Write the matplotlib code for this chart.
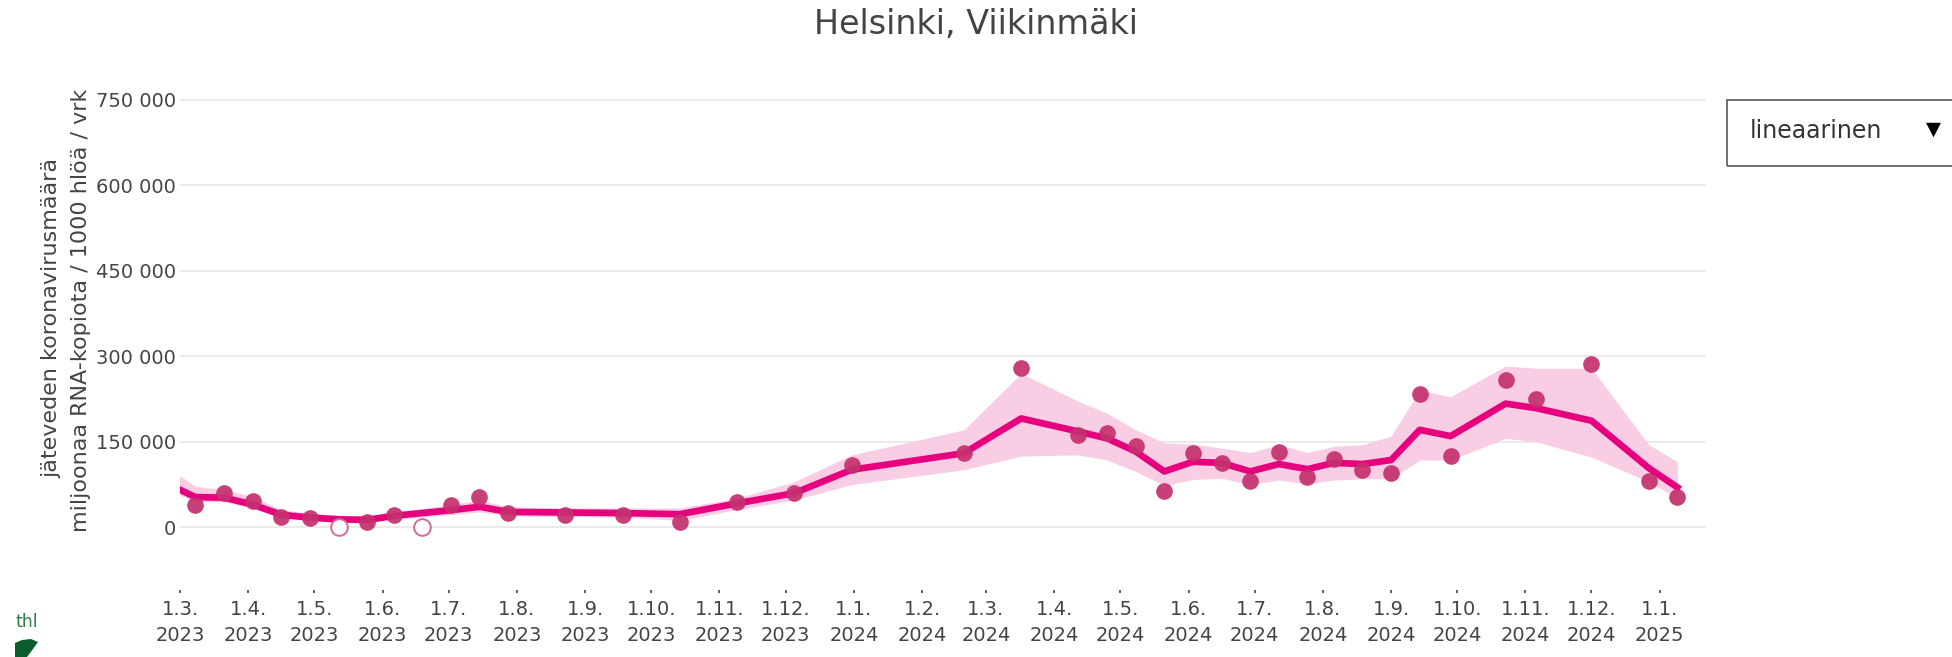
import matplotlib.pyplot as plt
import matplotlib.patches as mpatches
import matplotlib.ticker as mticker
import numpy as np
import pandas as pd

nan = np.nan

dates = ["2023-02-24", "2023-03-08", "2023-03-21", "2023-04-03", "2023-04-16",
         "2023-04-29", "2023-05-12", "2023-05-25", "2023-06-06", "2023-06-19",
         "2023-07-02", "2023-07-15", "2023-07-28", "2023-08-23", "2023-09-18",
         "2023-10-14", "2023-11-09", "2023-12-05", "2023-12-31", "2024-02-20",
         "2024-03-17", "2024-04-12", "2024-04-25", "2024-05-08", "2024-05-21",
         "2024-06-03", "2024-06-16", "2024-06-29", "2024-07-12", "2024-07-25",
         "2024-08-06", "2024-08-19", "2024-09-01", "2024-09-14", "2024-09-28",
         "2024-10-23", "2024-11-06", "2024-12-01", "2024-12-27", "2025-01-09"]

# measured values, below_lod = under detection limit (drawn as open circles on 0)
measured = [nan, 40000, 60000, 46000, 18000, 16000, 0, 10000, 21000, 0,
            39000, 54000, 25000, 22000, 22000, 9000, 45000, 61000, 110000, 131000,
            279000, 162000, 165000, 142000, 63000, 130000, 113000, 82000, 132000, 89000,
            120000, 101000, 96000, 234000, 125000, 259000, 225000, 286000, 82000, 54000]
below_lod = [False, False, False, False, False, False, True, False, False, True,
             False, False, False, False, False, False, False, False, False, False,
             False, False, False, False, False, False, False, False, False, False,
             False, False, False, False, False, False, False, False, False, False]

trend = [75000, 53000, 52000, 40000, 22000, 17000, 14000, 13000, 20000, 25000,
         30000, 36000, 27000, 26000, 25000, 23000, 42000, 60000, 101000, 130000,
         191000, 168000, 156000, 133000, 98000, 115000, 113000, 98000, 111000, 102000,
         113000, 111000, 118000, 171000, 160000, 217000, 209000, 187000, 104000, 70000]
trend_hi = [103000, 72000, 66000, 54000, 31000, 25000, 21000, 20000, 28000, 33000,
            40000, 48000, 36000, 34000, 34000, 34000, 51000, 80000, 127000, 171000,
            270000, 221000, 200000, 171000, 148000, 146000, 139000, 131000, 145000, 131000,
            142000, 145000, 160000, 241000, 229000, 283000, 279000, 279000, 145000, 115000]
trend_lo = [64000, 45000, 45000, 33000, 16000, 12000, 9000, 8000, 14000, 18000,
            22000, 27000, 20000, 19000, 18000, 12000, 31000, 48000, 75000, 101000,
            125000, 127000, 118000, 98000, 73000, 84000, 86000, 75000, 83000, 76000,
            83000, 85000, 85000, 118000, 118000, 156000, 150000, 123000, 80000, 51000]

tick_dates = pd.date_range("2023-03-01", "2025-01-01", freq="MS")
y_ticks = [0, 150000, 300000, 450000, 600000, 750000]

x = pd.to_datetime(dates)
measured = np.array(measured)
below_lod = np.array(below_lod)

txt = "#444444"
plt.rcParams["font.family"] = "DejaVu Sans"

fig = plt.figure(figsize=(19.52, 6.57), dpi=100)
ax = fig.add_axes([180 / 1952, 1 - 590 / 657, (1706 - 180) / 1952, (590 - 85) / 657])

ax.fill_between(x, trend_lo, trend_hi, color="#f9cde4", lw=0, zorder=1)
ax.plot(x, trend, color="#e6007e", lw=4.8, solid_joinstyle="round", zorder=2)
ok = ~below_lod & ~np.isnan(measured)
ax.plot(x[ok], measured[ok], "o", color="#c4306e", alpha=0.92, ms=12, mew=0, zorder=3)
ax.plot(x[below_lod], measured[below_lod], "o", mfc="white", mec="#d46a95",
        mew=1.4, ms=12, zorder=3)

ax.set_xlim(pd.Timestamp("2023-03-01"), pd.Timestamp("2025-01-22"))
ax.set_ylim(-110000, 776000)
ax.set_xticks(tick_dates)
ax.set_xticklabels([f"{d.day}.{d.month}.\n{d.year}" for d in tick_dates],
                   fontsize=14, color=txt, linespacing=1.5)
ax.set_yticks(y_ticks)
ax.yaxis.set_major_formatter(mticker.FuncFormatter(lambda v, p: f"{int(v):,}".replace(",", " ")))
ax.tick_params(axis="y", length=0, pad=3, labelsize=14, labelcolor=txt)
ax.tick_params(axis="x", length=2, width=1.2, color="#444444", pad=5)
ax.grid(axis="y", color="#e8e8e8", lw=1.2)
ax.set_axisbelow(True)
for s in ax.spines.values():
    s.set_visible(False)

fig.text(51 / 1952, 1 - 318 / 657, "jäteveden koronavirusmäärä", rotation=90,
         ha="center", va="center", fontsize=16, color=txt)
fig.text(81 / 1952, 1 - 310 / 657, "miljoonaa RNA-kopiota / 1000 hlöä / vrk", rotation=90,
         ha="center", va="center", fontsize=16, color=txt)

fig.text(0.5, 1 - 25 / 657, "Helsinki, Viikinmäki", ha="center", va="center",
         fontsize=24, color=txt)

# dropdown box on the right
fig.patches.append(mpatches.Rectangle((1727 / 1952, 1 - 166 / 657), 240 / 1952, 66 / 657,
                                      transform=fig.transFigure, fill=False,
                                      ec="#666666", lw=1.3))
fig.text(1750 / 1952, 1 - 131 / 657, "lineaarinen", ha="left", va="center",
         fontsize=17, color="#333333")
fig.text(1933 / 1952, 1 - 129 / 657, "▼", ha="center", va="center",
         fontsize=14, color="black")

# thl logo
fig.text(26.5 / 1952, 1 - 622 / 657, "thl", ha="center", va="center", fontsize=12.5,
         color="#2e7d4a")
leaf = np.array([[15, 657], [15, 643], [22, 640], [31, 639], [38, 642], [33, 649], [27, 657]])
fig.patches.append(mpatches.Polygon(np.c_[leaf[:, 0] / 1952, 1 - leaf[:, 1] / 657],
                                    closed=True, transform=fig.transFigure,
                                    fc="#0b5c2c", ec="none"))

fig.savefig("out.png", dpi=100)
